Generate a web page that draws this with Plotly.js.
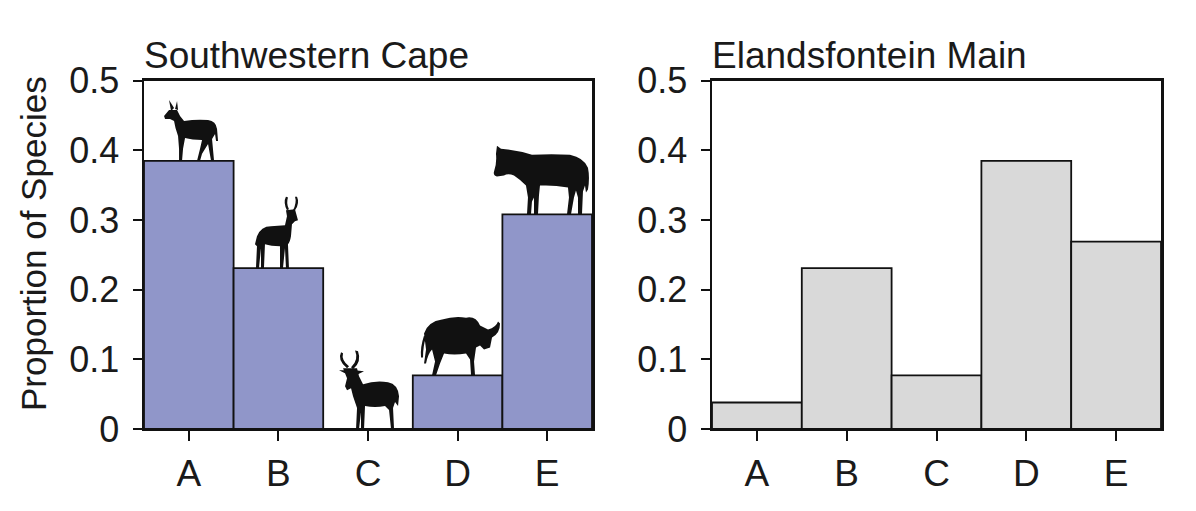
<!DOCTYPE html>
<html>
<head>
<meta charset="utf-8">
<script src="https://cdn.plot.ly/plotly-3.0.1.min.js"></script>
<style>html,body{margin:0;padding:0;background:#fff;}#chart{width:1196px;height:511px;}</style>
</head>
<body>
<div id="chart"></div>
<script>
// ---- data ----
const categories = ['A', 'B', 'C', 'D', 'E'];
const capeValues = [0.385, 0.231, 0.0, 0.077, 0.308];
const elandsValues = [0.038, 0.231, 0.077, 0.385, 0.269];
const yTickVals = [0, 0.1, 0.2, 0.3, 0.4, 0.5];
const yTickText = ['0', '0.1', '0.2', '0.3', '0.4', '0.5'];
const panelTitles = ['Southwestern Cape', 'Elandsfontein Main'];
const yAxisTitle = 'Proportion of Species';

const idx = categories.map((c, i) => i);
const FONT = 'Liberation Sans, Arial, sans-serif';
const TXT = '#1a1a1a';

// ---- silhouettes (decorative) ----
function svgURI(w, h, paths) {
  const s = '<svg xmlns="http://www.w3.org/2000/svg" width="' + w + '" height="' + h +
    '" viewBox="0 0 ' + w + ' ' + h + '" preserveAspectRatio="none">' +
    paths.map(p => '<path d="' + p + '" fill="#111"/>').join('') + '</svg>';
  return 'data:image/svg+xml;charset=utf-8,' + encodeURIComponent(s);
}
const sil = [
  { w: 56, h: 62, dx: 0.025, paths: [
    'M8,12 L6,1 L11,9 Z', 'M12,10 L14,2 L15,11 Z',
    'M1,17 L6,11 L14,11 L17,17 L21,22 Q33,20 45,21 Q53,22 54,30 L55,42 L53,42 L52,35 L49,40 L51,62 L48,62 L45,45 L39,55 L37,62 L34,62 L37,50 L39,41 Q29,41 22,39 L20,50 L19,62 L16,62 L16,50 L15,37 Q12,29 11,22 L7,20 L2,20 Z'] },
  { w: 48, h: 72, dx: -0.016, paths: [
    'M34,14 Q30,6 33,0 L35,1 Q33,7 36,13 Z', 'M40,14 Q44,6 42,0 L44,0 Q47,7 42,14 Z',
    'M4,40 Q8,30 18,30 L32,29 L34,20 L33,14 L42,13 L45,24 L42,25 L39,28 L38,40 Q37,46 35,48 L36,72 L33,72 L32,52 L30,72 L27,72 L27,50 Q18,50 12,48 L11,72 L8,72 L8,52 L6,72 L3,72 L4,50 L2,48 Z'] },
  { w: 66, h: 79, dx: -0.022, paths: [
    'M14,18 Q4,10 8,2 L10,3 Q8,10 16,16 Z', 'M18,17 Q26,10 22,0 L25,1 Q29,12 20,19 Z',
    'M6,20 L14,20 L12,23 Z', 'M22,20 L31,21 L25,24 Z',
    'M10,18 L24,18 L26,26 L30,34 Q42,30 55,32 Q65,34 66,46 L65,56 L62,52 L60,58 L61,79 L58,79 L56,60 L52,56 Q42,58 32,56 L31,79 L28,79 L28,62 L26,79 L23,79 L24,58 L20,46 L18,38 L14,40 L12,36 L14,28 Z'] },
  { w: 82, h: 62, dx: 0.016, paths: [
    'M6,22 Q2,34 3,44 L5,44 Q5,32 8,24 Z',
    'M6,20 Q10,8 24,6 Q36,2 48,4 Q58,2 62,12 L70,16 Q78,14 80,8 L82,10 Q82,20 74,24 L72,34 L66,36 L62,32 L58,34 L56,48 L57,62 L53,62 L52,46 L48,40 Q36,42 26,40 L22,50 L18,62 L14,62 L17,48 L14,36 Q10,40 8,50 L6,50 L8,36 Z'] },
  { w: 99, h: 69, dx: -0.064, paths: [
    'M5,0 L9,3 Q24,4 40,9 Q60,8 78,9 Q92,12 96,22 Q98,32 96,44 L94,47 L93,40 L91,46 L90,69 L86,69 L86,52 L84,45 L82,52 L79,69 L75,69 L77,52 L76,42 Q64,40 54,40 L48,40 L47,50 L46,69 L42,69 L42,52 L40,56 L39,69 L35,69 L36,52 L34,40 Q28,34 22,30 Q16,27 12,30 L5,31 Q1,30 2,26 Q5,18 4,8 Z'] }
];
const pxPerX = 89.6, pxPerY = 700;
const images = sil.map((s, i) => ({
  source: svgURI(s.w, s.h, s.paths),
  xref: 'x', yref: 'y',
  x: idx[i] + s.dx, y: capeValues[i],
  sizex: s.w / pxPerX, sizey: s.h / pxPerY,
  xanchor: 'center', yanchor: 'bottom',
  sizing: 'stretch', layer: 'above'
}));

// ---- traces ----
const traces = [
  { type: 'bar', x: idx, y: capeValues, xaxis: 'x', yaxis: 'y', width: 1,
    marker: { color: '#9096c9', line: { color: '#111', width: 1.8 } }, hoverinfo: 'x+y' },
  { type: 'bar', x: idx, y: elandsValues, xaxis: 'x2', yaxis: 'y2', width: 1,
    marker: { color: '#d9d9d9', line: { color: '#111', width: 1.8 } }, hoverinfo: 'x+y' }
];

function xax(domain, anchor) {
  return { domain: domain, anchor: anchor, range: [-0.5, 4.5], tickmode: 'array',
    tickvals: idx, ticktext: categories, ticks: 'outside', ticklen: 10, tickwidth: 2,
    tickcolor: '#111', showline: true, linewidth: 2.5, linecolor: '#111', mirror: true,
    showgrid: false, zeroline: false, ticklabelstandoff: 0,
    tickfont: { family: FONT, size: 37, color: TXT }, fixedrange: true };
}
function yax(anchor) {
  return { domain: [0.1605, 0.8421], anchor: anchor, range: [0, 0.5], tickmode: 'array',
    tickvals: yTickVals, ticktext: yTickText, ticks: 'outside', ticklen: 9, tickwidth: 2,
    tickcolor: '#111', showline: true, linewidth: 2.5, linecolor: '#111', mirror: true,
    showgrid: false, zeroline: false, ticklabelstandoff: 6,
    tickfont: { family: FONT, size: 36, color: TXT }, fixedrange: true };
}

const layout = {
  width: 1196, height: 511,
  margin: { l: 0, r: 0, t: 0, b: 0 },
  paper_bgcolor: '#fff', plot_bgcolor: '#fff',
  showlegend: false, bargap: 0,
  xaxis: xax([144 / 1196, 592 / 1196], 'y'),
  yaxis: yax('x'),
  xaxis2: xax([712 / 1196, 1161 / 1196], 'y2'),
  yaxis2: yax('x2'),
  images: images,
  annotations: [
    { text: panelTitles[0], xref: 'paper', yref: 'paper', x: 142 / 1196, y: 1 - 55 / 511,
      xanchor: 'left', yanchor: 'middle', showarrow: false,
      font: { family: FONT, size: 37, color: TXT } },
    { text: panelTitles[1], xref: 'paper', yref: 'paper', x: 710 / 1196, y: 1 - 55 / 511,
      xanchor: 'left', yanchor: 'middle', showarrow: false,
      font: { family: FONT, size: 37, color: TXT } },
    { text: yAxisTitle, xref: 'paper', yref: 'paper', x: 33 / 1196, y: 1 - 244 / 511,
      xanchor: 'center', yanchor: 'middle', textangle: -90, showarrow: false,
      font: { family: FONT, size: 35, color: TXT } }
  ]
};

Plotly.newPlot('chart', traces, layout, { displayModeBar: false, staticPlot: true });
</script>
</body>
</html>
